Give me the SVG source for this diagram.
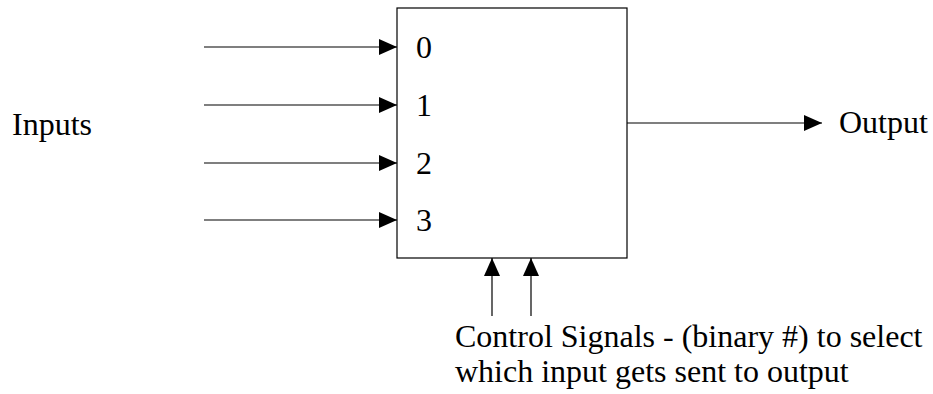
<svg xmlns="http://www.w3.org/2000/svg" width="933" height="394" viewBox="0 0 933 394">
<style>
.t{font-family:'Liberation Serif','Times New Roman',Tinos,Times,serif;font-size:32px;fill:#000}
.c{stroke:#000;stroke-width:1.2;fill:none}
</style>
<defs>
<marker id="ah" markerWidth="18" markerHeight="16" refX="18" refY="8" orient="auto" markerUnits="userSpaceOnUse">
<path d="M0,0 L18,8 L0,16 Z" fill="#000"/>
</marker>
</defs>
<rect width="933" height="394" fill="#fff"/>
<g id="mux">
<rect x="397" y="8" width="230" height="250" fill="#fff" stroke="#000" stroke-width="1.2"/>
<text class="t" x="416" y="58">0</text>
<text class="t" x="416" y="116">1</text>
<text class="t" x="416" y="174">2</text>
<text class="t" x="416" y="231">3</text>
</g>
<g id="inputs-label"><text class="t" x="12" y="135">Inputs</text></g>
<g id="output-label"><text class="t" x="839" y="133">Output</text></g>
<g id="control-label">
<text class="t" x="455" y="347">Control Signals - (binary #) to select</text>
<text class="t" x="455" y="382">which input gets sent to output</text>
</g>
<g id="connectors">
<line class="c" x1="204" y1="47" x2="397" y2="47" marker-end="url(#ah)"/>
<line class="c" x1="204" y1="105" x2="397" y2="105" marker-end="url(#ah)"/>
<line class="c" x1="204" y1="163" x2="397" y2="163" marker-end="url(#ah)"/>
<line class="c" x1="204" y1="220" x2="397" y2="220" marker-end="url(#ah)"/>
<line class="c" x1="627" y1="123" x2="822" y2="123" marker-end="url(#ah)"/>
<line class="c" x1="492" y1="316" x2="492" y2="258" marker-end="url(#ah)"/>
<line class="c" x1="531" y1="316" x2="531" y2="258" marker-end="url(#ah)"/>
</g>
</svg>
